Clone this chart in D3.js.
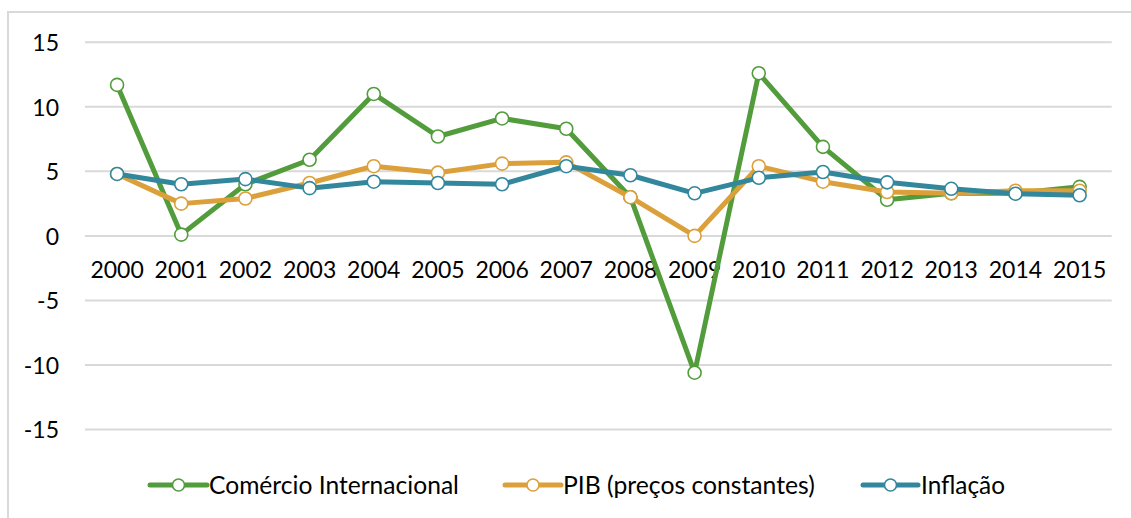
<!DOCTYPE html>
<html>
<head>
<meta charset="utf-8">
<script src="https://cdn.jsdelivr.net/npm/d3@7"></script>
<style>
  html, body { margin: 0; padding: 0; background: #fff; }
  svg { display: block; font-family: Lato, "Open Sans", sans-serif; }
</style>
</head>
<body>
<svg id="chart" width="1131" height="518"></svg>
<script>
// Years on the category axis
const years = ["2000","2001","2002","2003","2004","2005","2006","2007",
               "2008","2009","2010","2011","2012","2013","2014","2015"];

// Annual growth rates (%)
const comercio = [11.7, 0.1, 4.0, 5.9, 11.0, 7.7, 9.1, 8.3, 3.0, -10.6, 12.6, 6.9, 2.8, 3.3, 3.3, 3.8];
const pib      = [4.8, 2.5, 2.9, 4.1, 5.4, 4.9, 5.6, 5.7, 3.0, 0.0, 5.4, 4.2, 3.4, 3.3, 3.5, 3.5];
const inflacao = [4.8, 4.0, 4.4, 3.7, 4.2, 4.1, 4.0, 5.4, 4.7, 3.3, 4.5, 4.95, 4.15, 3.65, 3.27, 3.15];

const yTicks = [-15, -10, -5, 0, 5, 10, 15];

const seriesNames = ["Comércio Internacional", "PIB (preços constantes)", "Inflação"];
const seriesValues = [comercio, pib, inflacao];
const seriesColors = ["#529c3c", "#dca03b", "#32879d"];

const svg = d3.select("#chart");

// Chart frame
svg.append("rect")
  .attr("x", 8).attr("y", 12)
  .attr("width", 1140).attr("height", 520)
  .attr("fill", "none")
  .attr("stroke", "#d9d9d9")
  .attr("stroke-width", 2);

const x = d3.scaleBand().domain(years).range([85, 1111.7]);
const y = d3.scaleLinear().domain([-15, 15]).range([429.5, 42.3]);

// Horizontal gridlines
svg.append("g")
  .selectAll("line")
  .data(yTicks)
  .join("line")
  .attr("x1", 85).attr("x2", 1111.7)
  .attr("y1", d => y(d)).attr("y2", d => y(d))
  .attr("stroke", "#d9d9d9")
  .attr("stroke-width", 2);

// Value axis labels (plain hyphen for negatives)
const yAxis = d3.axisLeft(y).tickValues(yTicks).tickSize(0).tickPadding(0)
  .tickFormat(d => String(d));
const gy = svg.append("g").attr("transform", "translate(59,0)").call(yAxis);
gy.select(".domain").remove();
gy.selectAll("text")
  .attr("font-family", "Lato, sans-serif")
  .attr("font-size", 23)
  .attr("fill", "#000")
  .attr("dy", "0.36em");

// Category labels along the zero line
const xAxis = d3.axisBottom(x).tickSize(0).tickPadding(0);
const gx = svg.append("g").attr("transform", "translate(0,262)").call(xAxis);
gx.select(".domain").remove();
gx.selectAll("text")
  .attr("font-family", "Lato, sans-serif")
  .attr("font-size", 23)
  .attr("fill", "#000")
  .attr("dy", "0.71em");

const cx = d => x(d) + x.bandwidth() / 2;

const line = d3.line()
  .x((d, i) => cx(years[i]))
  .y(d => y(d));

// Series lines with hollow markers
seriesValues.forEach((vals, si) => {
  const g = svg.append("g");
  g.append("path")
    .datum(vals)
    .attr("d", line)
    .attr("fill", "none")
    .attr("stroke", seriesColors[si])
    .attr("stroke-width", 5)
    .attr("stroke-linejoin", "round");
  g.selectAll("circle")
    .data(vals)
    .join("circle")
    .attr("cx", (d, i) => cx(years[i]))
    .attr("cy", d => y(d))
    .attr("r", 6.5)
    .attr("fill", "#fff")
    .attr("stroke", seriesColors[si])
    .attr("stroke-width", 1.6);
});

// Legend
const legendItems = [
  { lineX1: 150, lineX2: 207, textX: 209, textW: 250 },
  { lineX1: 505, lineX2: 561, textX: 563, textW: 252 },
  { lineX1: 863, lineX2: 918, textX: 921, textW: 84 }
];
const legendY = 485;
const lg = svg.append("g");
legendItems.forEach((it, i) => {
  lg.append("line")
    .attr("x1", it.lineX1).attr("x2", it.lineX2)
    .attr("y1", legendY).attr("y2", legendY)
    .attr("stroke", seriesColors[i])
    .attr("stroke-width", 5)
    .attr("stroke-linecap", "round");
  lg.append("circle")
    .attr("cx", (it.lineX1 + it.lineX2) / 2)
    .attr("cy", legendY)
    .attr("r", 6)
    .attr("fill", "#fff")
    .attr("stroke", seriesColors[i])
    .attr("stroke-width", 1.6);
  const t = lg.append("text")
    .attr("x", it.textX)
    .attr("y", legendY)
    .attr("dy", "0.36em")
    .attr("font-family", "Lato, sans-serif")
    .attr("font-size", 21)
    .attr("fill", "#000")
    .text(seriesNames[i]);
  // fit label to its slot
  const w = t.node().getComputedTextLength();
  t.attr("font-size", 21 * it.textW / w);
});
</script>
</body>
</html>
